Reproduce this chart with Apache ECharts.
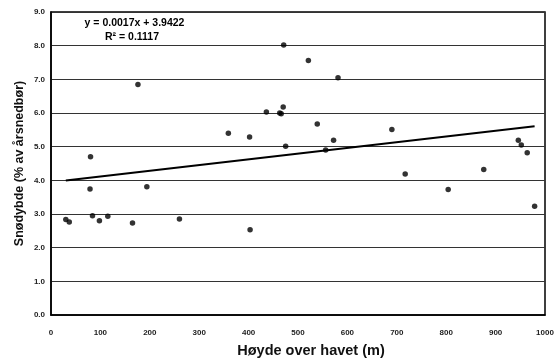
<!DOCTYPE html>
<html>
<head>
<meta charset="utf-8">
<script src="https://cdn.jsdelivr.net/npm/echarts@6/dist/echarts.min.js"></script>
<style>
  html, body { margin: 0; padding: 0; background: #fff; }
  #chart { width: 554px; height: 358px; }
</style>
</head>
<body>
<div id="chart"></div>
<script>
// Elevation (m) of each station and snow depth as % of annual precipitation
const elevation = [30, 37, 79, 80, 84, 98, 115, 165, 176, 194, 260, 359, 402, 403,
  436, 463, 466, 470, 471, 475, 521, 539, 556, 572, 581, 690, 717, 804, 876,
  946, 952, 964, 979];
const snowDepth = [2.84, 2.76, 3.74, 4.70, 2.95, 2.80, 2.93, 2.73, 6.85, 3.81, 2.85, 5.40, 5.29, 2.53,
  6.03, 6.00, 5.98, 6.18, 8.02, 5.01, 7.56, 5.67, 4.90, 5.19, 7.05, 5.51, 4.19, 3.73, 4.32,
  5.19, 5.05, 4.82, 3.23];

// Linear trend: y = slope * x + intercept
const slope = 0.0017;
const intercept = 3.9422;
const rSquared = 0.1117;

const xTicks = [0, 100, 200, 300, 400, 500, 600, 700, 800, 900, 1000];
const yTicks = [0, 1, 2, 3, 4, 5, 6, 7, 8, 9];

const points = elevation.map((x, i) => [x, snowDepth[i]]);
const xMin = Math.min(...elevation), xMax = Math.max(...elevation);
const trend = [[xMin, slope * xMin + intercept], [xMax, slope * xMax + intercept]];

const FONT = '"Liberation Sans", Arial, sans-serif';
const chart = echarts.init(document.getElementById('chart'), null, { renderer: 'canvas' });
chart.setOption({
  animation: false,
  backgroundColor: '#fff',
  grid: { left: 51, right: 9, top: 12, bottom: 43, show: true, borderColor: '#000', borderWidth: 1.5,
    backgroundColor: 'transparent', containLabel: false, outerBoundsMode: 'none' },
  xAxis: {
    type: 'value', min: xTicks[0], max: xTicks[xTicks.length - 1], interval: 100,
    name: 'Høyde over havet (m)', nameLocation: 'middle', nameGap: 28,
    nameTextStyle: { fontFamily: FONT, fontWeight: 'bold', fontSize: 14.5, color: '#111', padding: [0, 0, 0, 26] },
    axisLine: { show: true, lineStyle: { color: '#000', width: 1.5 } },
    axisTick: { show: false },
    axisLabel: { fontFamily: FONT, fontWeight: 'bold', fontSize: 8, color: '#222', margin: 14,
      formatter: v => String(v) },
    splitLine: { show: false }
  },
  yAxis: {
    type: 'value', min: yTicks[0], max: yTicks[yTicks.length - 1], interval: 1,
    name: 'Snødybde (% av årsnedbør)', nameLocation: 'middle', nameGap: 25, nameMoveOverlap: false,
    nameTextStyle: { fontFamily: FONT, fontWeight: 'bold', fontSize: 12.5, color: '#111' },
    axisLine: { show: true, lineStyle: { color: '#000', width: 1.5 } },
    axisTick: { show: false },
    axisLabel: { fontFamily: FONT, fontWeight: 'bold', fontSize: 8, color: '#222', margin: 6,
      formatter: v => v.toFixed(1) },
    splitLine: { show: true, lineStyle: { color: '#333', width: 1 } }
  },
  series: [
    {
      type: 'scatter', data: points, symbol: 'circle', symbolSize: 5.5,
      itemStyle: { color: '#000' }, z: 3
    },
    {
      type: 'line', data: trend, symbol: 'none', silent: true,
      lineStyle: { color: '#000', width: 2 }, z: 2
    }
  ],
  graphic: [
    { type: 'text', x: 134.5, y: 23,
      style: { text: 'y = ' + slope.toFixed(4) + 'x + ' + intercept.toFixed(4), font: 'bold 10.5px ' + FONT,
        fill: '#000', align: 'center', verticalAlign: 'middle' } },
    { type: 'text', x: 132, y: 37,
      style: { text: 'R² = ' + rSquared.toFixed(4), font: 'bold 10.5px ' + FONT,
        fill: '#000', align: 'center', verticalAlign: 'middle' } }
  ]
});
</script>
</body>
</html>
